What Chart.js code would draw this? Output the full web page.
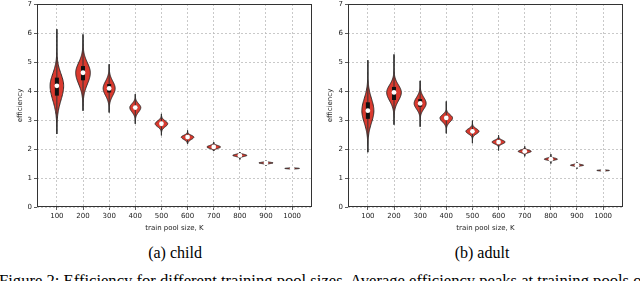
<!DOCTYPE html>
<html>
<head>
<meta charset="utf-8">
<script src="https://cdn.jsdelivr.net/npm/chart.js@4.4.0/dist/chart.umd.min.js"></script>
<style>
  body { margin: 0; background: #fff; width: 640px; height: 281px; overflow: hidden; position: relative; }
  .box { position: absolute; top: 0; width: 320px; height: 240px; }
  .cap { position: absolute; font-family: "Liberation Serif", serif; font-size: 16px; line-height: 17px; color: #000; white-space: nowrap; }
</style>
</head>
<body>
<div class="box" style="left:0"><canvas id="child-chart"></canvas></div>
<div class="box" style="left:320px"><canvas id="adult-chart"></canvas></div>
<div class="cap" style="left:15px;top:244px;width:320px;text-align:center">(a) child</div>
<div class="cap" style="left:322px;top:244px;width:320px;text-align:center">(b) adult</div>
<div class="cap" style="left:-1px;top:272px;font-size:16.6px">Figure 2: Efficiency for different training pool sizes. Average efficiency peaks at training pools of</div>
<script>
// x positions 1..10 are the pool sizes
const poolSizes = ["100", "200", "300", "400", "500", "600", "700", "800", "900", "1000"];
const positions = [1, 2, 3, 4, 5, 6, 7, 8, 9, 10];
const yTicks = [0, 1, 2, 3, 4, 5, 6, 7];

// child
const childMedian = [4.18, 4.63, 4.09, 3.43, 2.87, 2.41, 2.07, 1.78, 1.52, 1.33];
const childQ1     = [3.84, 4.37, 3.95, 3.38, 2.83, 2.38, 2.05, 1.77, 1.51, 1.32];
const childQ3     = [4.46, 4.86, 4.24, 3.48, 2.91, 2.44, 2.09, 1.79, 1.53, 1.34];
const childLo     = [2.52, 3.32, 3.26, 2.87, 2.47, 2.18, 1.93, 1.64, 1.42, 1.30];
const childHi     = [6.13, 5.95, 4.92, 3.89, 3.21, 2.64, 2.24, 1.89, 1.61, 1.37];
const childBodyLo = [3.09, 3.78, 3.55, 3.09, 2.64, 2.23, 1.96, 1.70, 1.47, 1.30];
const childBodyHi = [5.09, 5.38, 4.63, 3.72, 3.09, 2.55, 2.18, 1.86, 1.57, 1.36];
const childHalf   = [0.26, 0.28, 0.23, 0.21, 0.24, 0.24, 0.26, 0.27, 0.27, 0.28];

// adult
const adultMedian = [3.32, 3.95, 3.57, 3.07, 2.61, 2.24, 1.92, 1.65, 1.44, 1.26];
const adultQ1     = [3.04, 3.69, 3.46, 3.02, 2.57, 2.21, 1.90, 1.64, 1.43, 1.25];
const adultQ3     = [3.61, 4.14, 3.72, 3.12, 2.65, 2.27, 1.94, 1.66, 1.45, 1.27];
const adultLo     = [1.89, 2.84, 2.77, 2.54, 2.20, 1.95, 1.75, 1.50, 1.32, 1.20];
const adultHi     = [5.06, 5.26, 4.35, 3.64, 2.98, 2.47, 2.09, 1.82, 1.55, 1.31];
const adultBodyLo = [2.41, 3.32, 3.15, 2.77, 2.41, 2.10, 1.82, 1.58, 1.39, 1.23];
const adultBodyHi = [4.24, 4.52, 4.03, 3.32, 2.81, 2.38, 2.02, 1.73, 1.50, 1.29];
const adultHalf   = [0.23, 0.28, 0.23, 0.24, 0.25, 0.25, 0.25, 0.25, 0.25, 0.24];

const violinColor = "#d93a2f";
const tickFont = { family: "DejaVu Sans", size: 7 };

function violinPlugin(med, q1, q3, lo, hi, bodyLo, bodyHi, half) {
  return {
    id: "violins",
    beforeDatasetsDraw(chart) {
      const { ctx, scales: { x, y } } = chart;
      ctx.save();
      for (let i = 0; i < med.length; i++) {
        const pos = positions[i];
        const cx = x.getPixelForValue(pos);
        const steps = 80;
        const side = [];
        for (let k = 0; k <= steps; k++) {
          const v = lo[i] + (hi[i] - lo[i]) * k / steps;
          const s = v < med[i] ? (med[i] - bodyLo[i]) / 2.2 : (bodyHi[i] - med[i]) / 2.2;
          const w = half[i] * Math.exp(-0.5 * Math.pow((v - med[i]) / s, 2));
          side.push([x.getPixelForValue(pos + w) - cx, y.getPixelForValue(v)]);
        }
        ctx.beginPath();
        side.forEach(([dx, py], k) => k ? ctx.lineTo(cx + dx, py) : ctx.moveTo(cx + dx, py));
        for (let k = side.length - 1; k >= 0; k--) ctx.lineTo(cx - side[k][0], side[k][1]);
        ctx.closePath();
        ctx.fillStyle = violinColor;
        ctx.fill();
        ctx.strokeStyle = "#222";
        ctx.lineWidth = 0.9;
        ctx.stroke();

        // whisker line
        ctx.beginPath();
        ctx.moveTo(cx, y.getPixelForValue(lo[i]));
        ctx.lineTo(cx, y.getPixelForValue(hi[i]));
        ctx.lineWidth = 1;
        ctx.strokeStyle = "#333";
        ctx.stroke();

        // interquartile box
        ctx.beginPath();
        ctx.moveTo(cx, y.getPixelForValue(q1[i]));
        ctx.lineTo(cx, y.getPixelForValue(q3[i]));
        ctx.lineWidth = 4;
        ctx.strokeStyle = "#111";
        ctx.stroke();
      }
      ctx.restore();
    },
    afterDraw(chart) {
      const { ctx, chartArea: a } = chart;
      ctx.save();
      ctx.strokeStyle = "#333";
      ctx.lineWidth = 1;
      const l = Math.round(a.left) + 0.5, t = Math.round(a.top) + 0.5;
      const r = Math.round(a.right) - 0.5, b = Math.round(a.bottom) - 0.5;
      ctx.strokeRect(l, t, r - l, b - t);
      ctx.restore();
    }
  };
}

function makeChart(id, med, q1, q3, lo, hi, bodyLo, bodyHi, half, yWidth, rightPad, yTitlePad) {
  return new Chart(document.getElementById(id).getContext("2d"), {
    type: "scatter",
    data: {
      datasets: [{
        data: positions.map((p, i) => ({ x: p, y: med[i] })),
        pointRadius: 2.4,
        pointBackgroundColor: "#fff",
        pointBorderWidth: 0,
      }],
    },
    options: {
      responsive: true,
      maintainAspectRatio: false,
      animation: false,
      layout: { padding: { top: 3, right: rightPad, left: 0, bottom: 0 } },
      plugins: { legend: { display: false }, tooltip: { enabled: false } },
      scales: {
        x: {
          type: "linear", min: 0.24, max: 10.76,
          afterBuildTicks: s => { s.ticks = positions.map(v => ({ value: v })); },
          afterFit: s => { s.height = 33; },
          ticks: { callback: v => poolSizes[v - 1], font: tickFont, color: "#222", padding: 2, maxRotation: 0, autoSkip: false },
          grid: { color: "#bbb", lineWidth: 0.8, tickColor: "#333", tickLength: 3 },
          border: { display: false, dash: [2, 2] },
          title: { display: true, text: "train pool size, K", font: tickFont, color: "#222", padding: { top: 0, bottom: 7.8 } }
        },
        y: {
          min: 0, max: 7,
          afterBuildTicks: s => { s.ticks = yTicks.map(v => ({ value: v })); },
          afterFit: s => { s.width = yWidth; s.paddingTop = 0; s.paddingBottom = 0; },
          ticks: { font: tickFont, color: "#222", padding: 2 },
          grid: { color: "#bbb", lineWidth: 0.8, tickColor: "#333", tickLength: 3 },
          border: { display: false, dash: [2, 2] },
          title: { display: true, text: "efficiency", font: tickFont, color: "#222", padding: { top: yTitlePad, bottom: 0 } }
        }
      }
    },
    plugins: [violinPlugin(med, q1, q3, lo, hi, bodyLo, bodyHi, half)]
  });
}

makeChart("child-chart", childMedian, childQ1, childQ3, childLo, childHi, childBodyLo, childBodyHi, childHalf, 37, 8, 15.8);
makeChart("adult-chart", adultMedian, adultQ1, adultQ3, adultLo, adultHi, adultBodyLo, adultBodyHi, adultHalf, 28, 17, 5.8);
</script>
</body>
</html>
